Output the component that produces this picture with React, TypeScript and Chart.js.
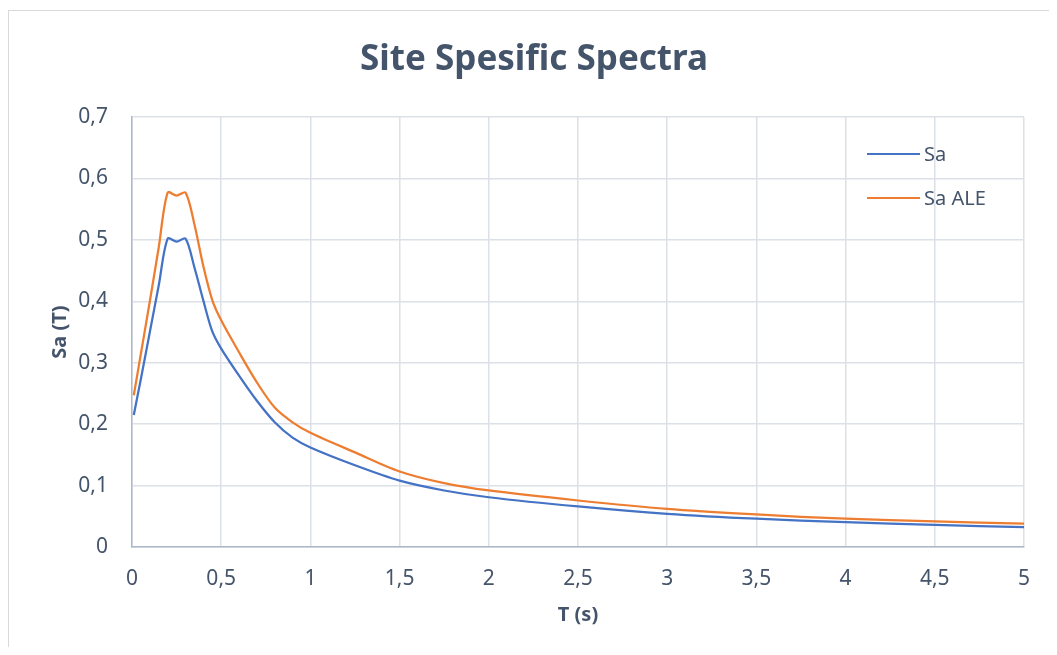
import React, { useEffect, useRef } from "react";
import { Chart, registerables } from "chart.js";

Chart.register(...registerables);

const titleText = "Site Spesific Spectra";
const xAxisTitle = "T (s)";
const yAxisTitle = "Sa (T)";

const periods = [
  0.01, 0.05, 0.1, 0.15, 0.2, 0.25, 0.3, 0.35, 0.4, 0.45, 0.5, 0.6, 0.7, 0.8,
  0.9, 1.0, 1.25, 1.5, 1.75, 2.0, 2.5, 3.0, 3.5, 4.0, 4.5, 5.0,
];
const saValues = [
  0.215, 0.274, 0.35, 0.426, 0.502, 0.497, 0.502, 0.455, 0.401, 0.351, 0.323,
  0.279, 0.238, 0.203, 0.178, 0.162, 0.133, 0.108, 0.092, 0.081, 0.066, 0.054,
  0.046, 0.0405, 0.036, 0.0324,
];
const saAleValues = [
  0.247, 0.315, 0.4, 0.488, 0.577, 0.572, 0.577, 0.525, 0.457, 0.402, 0.369,
  0.317, 0.268, 0.227, 0.203, 0.186, 0.154, 0.123, 0.104, 0.092, 0.0757, 0.062,
  0.053, 0.046, 0.0417, 0.038,
];
const seriesNames = ["Sa", "Sa ALE"];
const seriesColors = ["#4472C4", "#ED7D31"];

const xTickLabels = ["0", "0,5", "1", "1,5", "2", "2,5", "3", "3,5", "4", "4,5", "5"];
const yTickLabels = ["0", "0,1", "0,2", "0,3", "0,4", "0,5", "0,6", "0,7"];

const TEXT = "#44546A";
const GRID = "#DCE0E7";
const AXIS = "#ADB9CA";
const FONT = "'Noto Sans'";

const titlePlugin = {
  id: "customTitle",
  afterDraw(chart: any) {
    const ctx = chart.ctx;
    ctx.save();
    ctx.fillStyle = TEXT;
    ctx.font = `bold 35px ${FONT}`;
    ctx.textAlign = "center";
    ctx.textBaseline = "middle";
    ctx.fillText(titleText, 525, 49);
    ctx.restore();
  },
};

const legendPlugin = {
  id: "insideLegend",
  afterDraw(chart: any) {
    const ctx = chart.ctx;
    const x0 = 858;
    const x1 = 911;
    const ys = [143, 187];
    ctx.save();
    chart.data.datasets.forEach((ds: any, i: number) => {
      ctx.strokeStyle = ds.borderColor;
      ctx.lineWidth = 2;
      ctx.beginPath();
      ctx.moveTo(x0, ys[i]);
      ctx.lineTo(x1, ys[i]);
      ctx.stroke();
      ctx.fillStyle = TEXT;
      ctx.font = `20px ${FONT}`;
      ctx.textBaseline = "middle";
      ctx.textAlign = "left";
      ctx.fillText(ds.label, 915, ys[i] + 1);
    });
    ctx.restore();
  },
};

export default function App() {
  const ref = useRef<HTMLCanvasElement | null>(null);

  useEffect(() => {
    if (!ref.current) return;
    const datasets = [saValues, saAleValues].map((vals, i) => ({
      label: seriesNames[i],
      data: periods.map((t, j) => ({ x: t, y: vals[j] })),
      borderColor: seriesColors[i],
      backgroundColor: seriesColors[i],
      borderWidth: 2.25,
      pointRadius: 0,
      tension: 0.3,
      fill: false,
    }));
    const chart = new Chart(ref.current, {
      type: "line",
      data: { datasets },
      plugins: [titlePlugin, legendPlugin],
      options: {
        animation: false,
        responsive: false,
        maintainAspectRatio: false,
        layout: { padding: { left: 0, right: 24, top: 106, bottom: 0 } },
        plugins: {
          legend: { display: false },
          tooltip: { enabled: false },
          title: { display: false },
        },
        scales: {
          x: {
            type: "linear",
            min: 0,
            max: 5,
            ticks: {
              stepSize: 0.5,
              color: TEXT,
              font: { family: FONT, size: 21 },
              padding: 19,
              maxRotation: 0,
              autoSkip: false,
              callback: (_v: any, idx: number) => xTickLabels[idx],
            },
            grid: { color: GRID, lineWidth: 1.5, drawTicks: false },
            border: { color: AXIS, width: 1.5 },
            title: {
              display: true,
              text: xAxisTitle,
              color: TEXT,
              font: { family: FONT, size: 20, weight: "bold", lineHeight: 1.2 },
              padding: { top: 0, bottom: 20 },
            },
            afterFit: (scale: any) => {
              scale.height = 100;
            },
          },
          y: {
            type: "linear",
            min: 0,
            max: 0.7,
            ticks: {
              stepSize: 0.1,
              color: TEXT,
              font: { family: FONT, size: 21 },
              padding: 24,
              autoSkip: false,
              callback: (_v: any, idx: number) => yTickLabels[idx],
            },
            grid: { color: GRID, lineWidth: 1.5, drawTicks: false },
            border: { color: AXIS, width: 1.5 },
            title: {
              display: true,
              text: yAxisTitle,
              color: TEXT,
              font: { family: FONT, size: 20, weight: "bold", lineHeight: 1.2 },
              padding: { top: 39, bottom: 0 },
            },
            afterFit: (scale: any) => {
              scale.width = 123;
            },
          },
        },
      },
    } as any);
    return () => chart.destroy();
  }, []);

  return (
    <div
      style={{
        marginTop: 2,
        borderTop: "1px solid #D9D9D9",
        borderLeft: "1px solid #D9D9D9",
        width: 1040,
        height: 636,
        background: "#fff",
      }}
    >
      <canvas ref={ref} width={1040} height={636} style={{ display: "block" }} />
    </div>
  );
}
